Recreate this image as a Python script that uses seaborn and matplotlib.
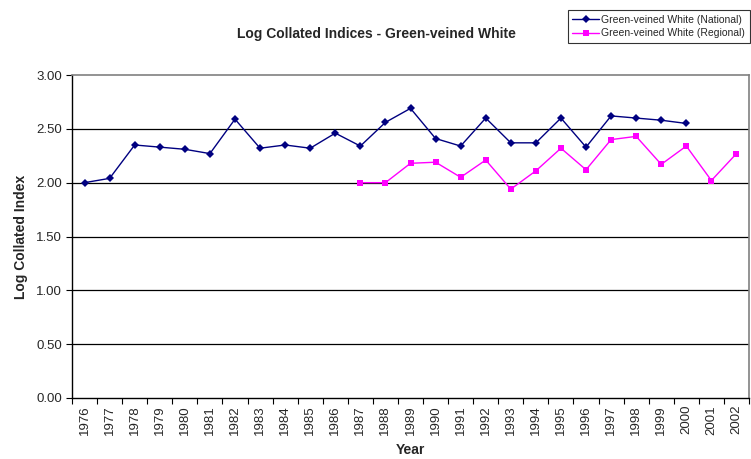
import matplotlib
matplotlib.use("Agg")
import matplotlib.pyplot as plt
import seaborn as sns
import pandas as pd
import numpy as np

years = list(range(1976, 2003))
national_years = list(range(1976, 2001))
national = [2.00, 2.04, 2.35, 2.33, 2.31, 2.27, 2.59, 2.32, 2.35, 2.32, 2.46, 2.34, 2.56,
            2.69, 2.41, 2.34, 2.60, 2.37, 2.37, 2.60, 2.33, 2.62, 2.60, 2.58, 2.55]
regional_years = list(range(1987, 2003))
regional = [2.00, 2.00, 2.18, 2.19, 2.05, 2.21, 1.94, 2.11, 2.32, 2.12, 2.40, 2.43, 2.17,
            2.34, 2.02, 2.27]
series_names = ["Green-veined White (National)", "Green-veined White (Regional)"]
yticks = [0.0, 0.5, 1.0, 1.5, 2.0, 2.5, 3.0]

sns.set_theme(style="white")
plt.rcParams['font.family'] = ['Liberation Sans', 'DejaVu Sans']

df = pd.concat([
    pd.DataFrame({"Year": national_years, "Value": national, "Series": series_names[0]}),
    pd.DataFrame({"Year": regional_years, "Value": regional, "Series": series_names[1]}),
])

fig = plt.figure(figsize=(7.51, 4.59), dpi=100)
ax = fig.add_axes([72/751, 1-398/459, 677/751, 323/459])

sns.lineplot(data=df, x="Year", y="Value", hue="Series", style="Series",
             palette=["#000080", "#FF00FF"], markers=["D", "s"], dashes=False,
             markersize=4.5, linewidth=1, markeredgewidth=0, ax=ax)

ax.set_xlim(1975.5, 2002.5)
ax.set_ylim(0, 3)
ax.set_yticks(yticks)
ax.set_yticklabels([f"{v:.2f}" for v in yticks], fontsize=9.5)
ax.set_xticks(years)
ax.set_xticklabels([str(y) for y in years], rotation=90, fontsize=9.5)
ax.set_xticks(np.arange(1975.5, 2003, 1), minor=True)
ax.tick_params(axis='x', which='major', length=0, pad=5)
ax.tick_params(axis='x', which='minor', length=4, color='black', width=0.8, direction='out')
ax.tick_params(axis='y', which='major', length=4, color='black', width=0.8, direction='out', pad=3)
ax.xaxis.set_ticks_position('bottom')
ax.yaxis.set_ticks_position('left')

for v in yticks[1:-1]:
    ax.axhline(v, color='black', linewidth=0.9, zorder=0)

for side in ['top', 'right']:
    ax.spines[side].set_color('#808080')
    ax.spines[side].set_linewidth(1.2)
for side in ['left', 'bottom']:
    ax.spines[side].set_color('black')
    ax.spines[side].set_linewidth(1.0)

ax.set_xlabel("Year", fontsize=10, fontweight='bold', labelpad=6)
ax.set_ylabel("Log Collated Index", fontsize=10, fontweight='bold', labelpad=6)
fig.text(376/751, 1-34/459, "Log Collated Indices - Green-veined White",
         ha='center', va='center', fontsize=10, fontweight='bold')

ax.legend_.remove()
handles, labels = ax.get_legend_handles_labels()
leg = fig.legend(handles, labels, loc='upper right', bbox_to_anchor=(750/751, 1-10/459),
                 fontsize=7.5, frameon=True, fancybox=False, edgecolor='black',
                 borderpad=0.45, labelspacing=0.35, handlelength=2.6, handletextpad=0.2,
                 borderaxespad=0)
leg.get_frame().set_linewidth(0.8)

fig.savefig("out.png", dpi=100)
